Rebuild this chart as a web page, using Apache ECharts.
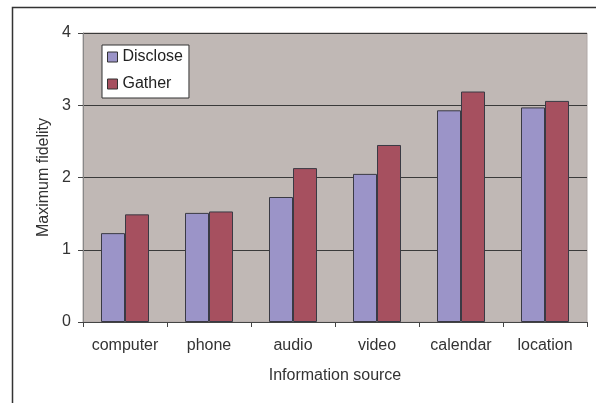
<!DOCTYPE html>
<html>
<head>
<meta charset="utf-8">
<script src="https://cdn.jsdelivr.net/npm/echarts@6/dist/echarts.min.js"></script>
<style>
  html, body { margin: 0; padding: 0; background: #ffffff; }
  #chart { width: 596px; height: 403px; }
</style>
</head>
<body>
<div id="chart"></div>
<script>
// Information sources on the horizontal axis
const categories = ['computer', 'phone', 'audio', 'video', 'calendar', 'location'];
// Maximum fidelity per source
const discloseValues = [1.23, 1.51, 1.73, 2.05, 2.93, 2.97];
const gatherValues = [1.49, 1.53, 2.13, 2.45, 3.19, 3.06];
const yTicks = [0, 1, 2, 3, 4];

const FONT = 'Liberation Sans, Arial, sans-serif';
const chart = echarts.init(document.getElementById('chart'), null, { renderer: 'canvas' });

chart.setOption({
  animation: false,
  backgroundColor: '#ffffff',
  graphic: [{
    type: 'rect',
    shape: { x: 12.5, y: 7.5, width: 640, height: 460 },
    style: { fill: 'none', stroke: '#333333', lineWidth: 1.5 },
    silent: true
  }],
  grid: {
    left: 83, right: 9, top: 33, bottom: 81,
    show: true,
    backgroundColor: '#c0b8b5',
    borderColor: '#b0a8a6',
    borderWidth: 1
  },
  legend: {
    left: 102, top: 45,
    orient: 'vertical',
    itemWidth: 10, itemHeight: 10, itemGap: 11,
    padding: [4, 6, 6, 5],
    backgroundColor: '#ffffff',
    borderColor: '#333333', borderWidth: 1,
    textStyle: { fontFamily: FONT, fontSize: 16, lineHeight: 16, color: '#222222' },
    data: [
      { name: 'Disclose', icon: 'rect', itemStyle: { borderColor: '#333', borderWidth: 1 } },
      { name: 'Gather', icon: 'rect', itemStyle: { borderColor: '#333', borderWidth: 1 } }
    ]
  },
  xAxis: {
    type: 'category',
    data: categories,
    name: 'Information source',
    nameLocation: 'middle',
    nameGap: 46,
    nameTextStyle: { fontFamily: FONT, fontSize: 16, color: '#333333' },
    axisLine: { lineStyle: { color: '#444444', width: 1 } },
    axisTick: { show: true, interval: 0, length: 5, lineStyle: { color: '#444444' } },
    axisLabel: { interval: 0, hideOverlap: false, fontFamily: FONT, fontSize: 16, color: '#333333', margin: 16 }
  },
  yAxis: {
    type: 'value',
    min: yTicks[0], max: yTicks[yTicks.length - 1], interval: 1,
    name: 'Maximum fidelity',
    nameLocation: 'middle',
    nameGap: 31,
    nameTextStyle: { fontFamily: FONT, fontSize: 16, color: '#333333' },
    axisLine: { show: true, lineStyle: { color: '#888888', width: 1 } },
    axisTick: { show: true, length: 5, lineStyle: { color: '#444444' } },
    axisLabel: { fontFamily: FONT, fontSize: 16, color: '#333333', margin: 12 },
    splitLine: { show: true, lineStyle: { color: '#3a3a3a', width: 1 } }
  },
  series: [
    {
      name: 'Disclose',
      type: 'bar',
      data: discloseValues,
      barWidth: 24,
      barGap: '0%',
      itemStyle: { color: '#9b94c8', borderColor: '#3a3a44', borderWidth: 1 }
    },
    {
      name: 'Gather',
      type: 'bar',
      data: gatherValues,
      barWidth: 24,
      barGap: '0%',
      itemStyle: { color: '#a6505f', borderColor: '#3a3a44', borderWidth: 1 }
    }
  ]
});
</script>
</body>
</html>
